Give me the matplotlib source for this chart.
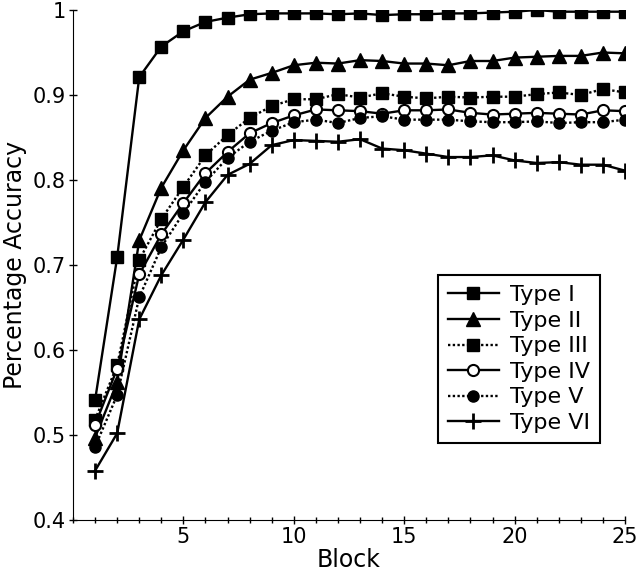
import matplotlib
matplotlib.use('Agg')
import matplotlib.pyplot as plt
from matplotlib.ticker import MultipleLocator

bloques = list(range(1, 26))

tipo_1 = [0.541, 0.709, 0.921, 0.957, 0.975, 0.986, 0.991, 0.995, 0.996, 0.996,
          0.996, 0.995, 0.996, 0.994, 0.995, 0.995, 0.996, 0.996, 0.997, 0.998,
          1.000, 0.998, 0.998, 0.998, 0.998]
tipo_2 = [0.497, 0.562, 0.729, 0.791, 0.835, 0.873, 0.898, 0.918, 0.926, 0.935,
          0.938, 0.937, 0.941, 0.940, 0.937, 0.937, 0.935, 0.940, 0.940, 0.944,
          0.945, 0.946, 0.946, 0.950, 0.949]
tipo_3 = [0.518, 0.582, 0.706, 0.754, 0.792, 0.829, 0.853, 0.873, 0.887, 0.895,
          0.895, 0.901, 0.897, 0.902, 0.898, 0.896, 0.898, 0.897, 0.898, 0.898,
          0.901, 0.903, 0.900, 0.907, 0.903]
tipo_4 = [0.512, 0.578, 0.689, 0.736, 0.773, 0.808, 0.833, 0.855, 0.867, 0.876,
          0.883, 0.882, 0.881, 0.878, 0.882, 0.882, 0.883, 0.879, 0.877, 0.878,
          0.879, 0.878, 0.877, 0.882, 0.881]
tipo_5 = [0.486, 0.547, 0.662, 0.721, 0.761, 0.798, 0.826, 0.845, 0.858, 0.868,
          0.871, 0.867, 0.873, 0.875, 0.871, 0.871, 0.871, 0.869, 0.868, 0.868,
          0.869, 0.867, 0.868, 0.868, 0.871]
tipo_6 = [0.458, 0.502, 0.636, 0.688, 0.730, 0.774, 0.806, 0.819, 0.841, 0.847,
          0.846, 0.845, 0.848, 0.837, 0.835, 0.831, 0.827, 0.827, 0.829, 0.823,
          0.820, 0.821, 0.818, 0.818, 0.811]

etiquetas = ['Type I', 'Type II', 'Type III', 'Type IV', 'Type V', 'Type VI']
xticks = [5, 10, 15, 20, 25]
yticks = [0.4, 0.5, 0.6, 0.7, 0.8, 0.9, 1.0]
ytick_labels = ['0.4', '0.5', '0.6', '0.7', '0.8', '0.9', '1']

plt.rcParams['font.family'] = ['DejaVu Sans']

fig = plt.figure(figsize=(6.42, 5.82), dpi=100)
ax = fig.add_axes([73 / 642, 1 - 520 / 582, 552 / 642, 510 / 582])

lw = 1.7
punteado = (0, (1, 1))
ax.plot(bloques, tipo_1, color='black', lw=lw, ls='-', marker='s', ms=8,
        label=etiquetas[0])
ax.plot(bloques, tipo_2, color='black', lw=lw, ls='-', marker='^', ms=10,
        label=etiquetas[1])
ax.plot(bloques, tipo_3, color='black', lw=lw, ls=punteado, marker='s', ms=8,
        label=etiquetas[2])
ax.plot(bloques, tipo_4, color='black', lw=lw, ls='-', marker='o', ms=8,
        mfc='white', mec='black', mew=1.5, label=etiquetas[3])
ax.plot(bloques, tipo_5, color='black', lw=lw, ls=punteado, marker='o', ms=8,
        label=etiquetas[4])
ax.plot(bloques, tipo_6, color='black', lw=lw, ls='-', marker='+', ms=11,
        mew=2, label=etiquetas[5])

ax.set_xlim(0, 25)
ax.set_ylim(0.4, 1.0)
ax.set_xticks(xticks)
ax.xaxis.set_minor_locator(MultipleLocator(1))
ax.set_yticks(yticks)
ax.set_yticklabels(ytick_labels)
ax.tick_params(axis='both', which='major', direction='inout', length=6,
               width=1, labelsize=15, pad=2)
ax.tick_params(axis='both', which='minor', direction='inout', length=4, width=1)

ax.spines['top'].set_visible(False)
ax.spines['right'].set_visible(False)
ax.set_xlabel('Block', fontsize=17, labelpad=1)
ax.set_ylabel('Percentage Accuracy', fontsize=17, labelpad=4)

leg = ax.legend(loc='upper left', bbox_to_anchor=(0.661, 0.480),
                borderaxespad=0, fontsize=16, frameon=True, fancybox=False,
                framealpha=1, edgecolor='black', handlelength=2.3,
                labelspacing=0.25, borderpad=0.45, handletextpad=0.5)
leg.get_frame().set_linewidth(1.5)

fig.savefig('out.png', dpi=100)
